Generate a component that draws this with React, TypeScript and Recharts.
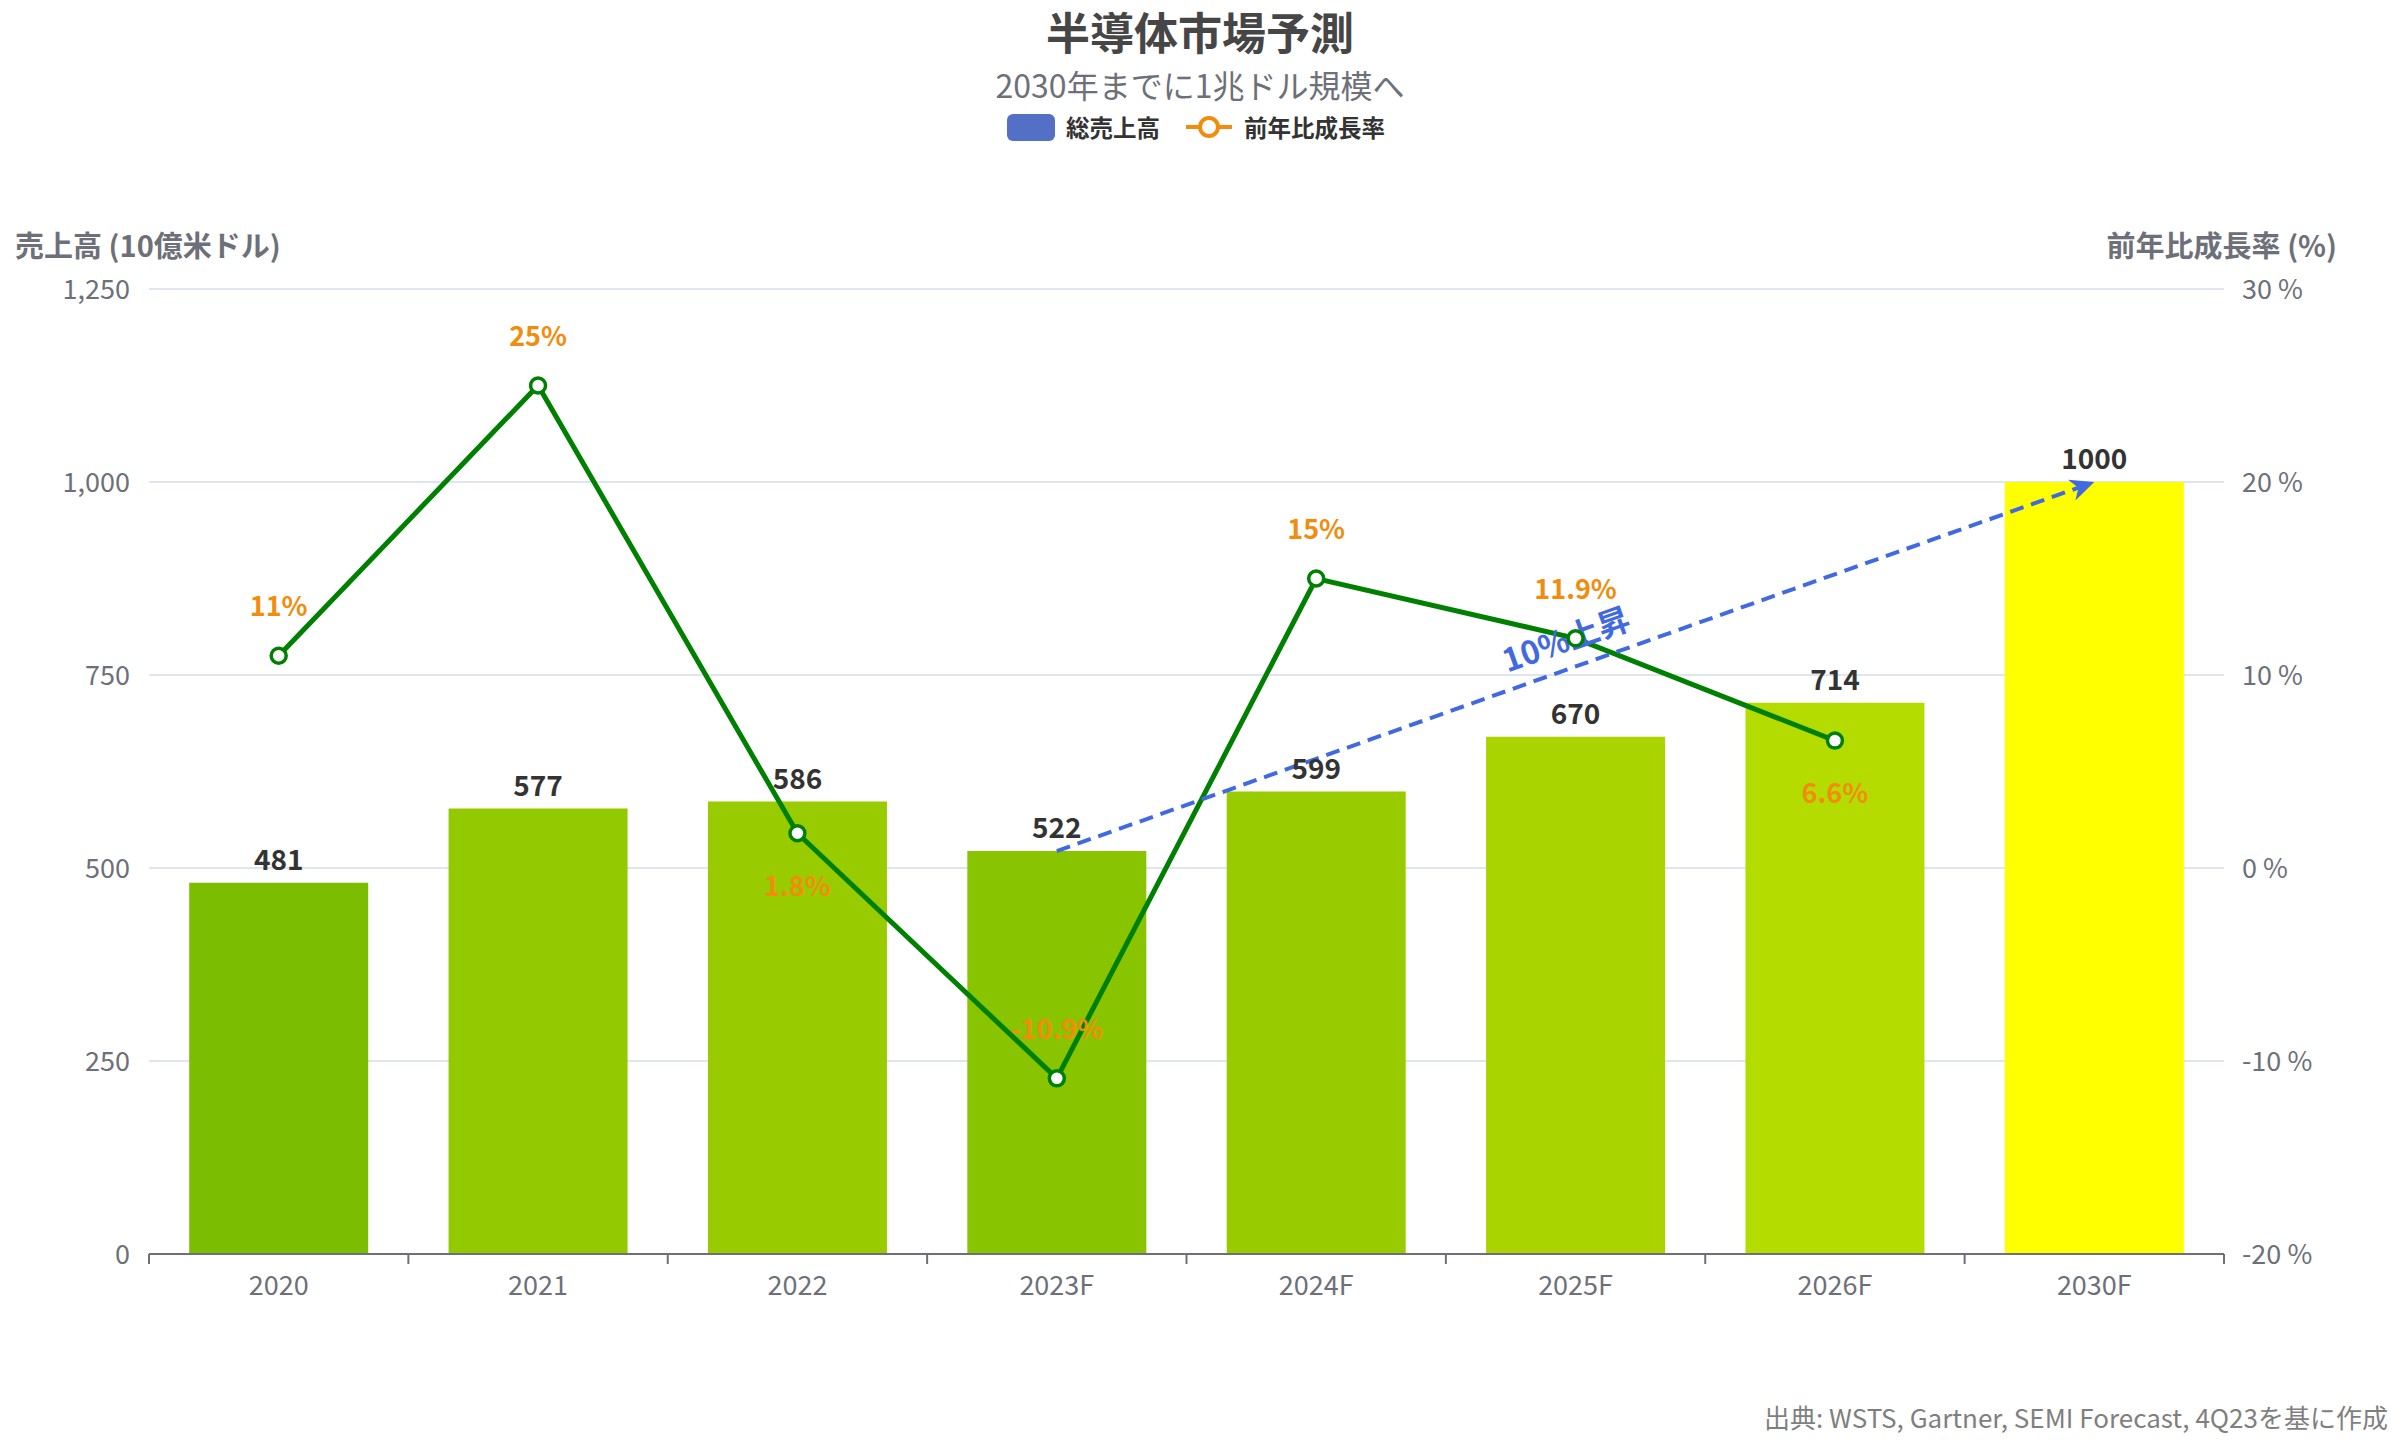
import React from "react";
import {
  ComposedChart,
  Bar,
  Line,
  XAxis,
  YAxis,
  CartesianGrid,
  Cell,
  LabelList,
  ReferenceLine,
} from "recharts";

const FONT = '"Noto Sans CJK JP", "Noto Sans", sans-serif';

// data
const categories = ["2020", "2021", "2022", "2023F", "2024F", "2025F", "2026F", "2030F"];
const revenue = [481, 577, 586, 522, 599, 670, 714, 1000];
const growth: (number | null)[] = [11, 25, 1.8, -10.9, 15, 11.9, 6.6, null];
const leftTicks = [0, 250, 500, 750, 1000, 1250];
const rightTicks = [-20, -10, 0, 10, 20, 30];
const trendFrom = { x: "2023F", y: 522 };
const trendTo = { x: "2030F", y: 1000 };

// styling
const BAR_COLORS = ["#7bbd00", "#93c900", "#99cc00", "#88c400", "#99cc00", "#a9d400", "#b5dc00", "#ffff00"];
const GROWTH_LABEL_SIDE = ["up", "up", "down", "up", "up", "up", "down", "up"];
const AXIS_GRAY = "#6e7079";
const ORANGE = "#f28c0c";
const LINE_GREEN = "#008000";
const BLUE = "#4169e1";

const PLOT_LEFT = 149;
const PLOT_RIGHT = 2224;
const BAND = (PLOT_RIGHT - PLOT_LEFT) / categories.length;

const data = categories.map((c, i) => ({
  name: c,
  revenue: revenue[i],
  growth: growth[i],
}));

const XTick = (props: any) => {
  const { x, y, payload, index } = props;
  const half = BAND / 2;
  return (
    <g>
      <line x1={x - half} x2={x - half} y1={y} y2={y + 10} stroke={AXIS_GRAY} strokeWidth={2} />
      {index === categories.length - 1 && (
        <line x1={x + half} x2={x + half} y1={y} y2={y + 10} stroke={AXIS_GRAY} strokeWidth={2} />
      )}
      <text
        x={x}
        y={y + 29}
        textAnchor="middle"
        dominantBaseline="central"
        fill={AXIS_GRAY}
        fontSize={27}
        fontFamily={FONT}
      >
        {payload.value}
      </text>
    </g>
  );
};

const GrowthLabel = (props: any) => {
  const { x, y, value, index } = props;
  if (value === null || value === undefined) return null;
  const dy = GROWTH_LABEL_SIDE[index] === "down" ? 51 : -51;
  return (
    <text
      x={x}
      y={y + dy}
      textAnchor="middle"
      dominantBaseline="central"
      fill={ORANGE}
      fontSize={27}
      fontWeight={700}
      fontFamily={FONT}
    >
      {`${value}%`}
    </text>
  );
};

const TrendArrow = (props: any) => {
  const { x1, y1, x2, y2 } = props;
  if ([x1, y1, x2, y2].some((v) => typeof v !== "number" || isNaN(v))) return null;
  const a = Math.atan2(y2 - y1, x2 - x1);
  const c = Math.cos(a);
  const s = Math.sin(a);
  const len = 24;
  const w = 11;
  const bx = x2 - len * c;
  const by = y2 - len * s;
  const nx = x2 - len * 0.7 * c;
  const ny = y2 - len * 0.7 * s;
  const head = [
    `${x2},${y2}`,
    `${bx - w * s},${by + w * c}`,
    `${nx},${ny}`,
    `${bx + w * s},${by - w * c}`,
  ].join(" ");
  const t = 0.5;
  const mx = x1 + (x2 - x1) * t + 31 * s;
  const my = y1 + (y2 - y1) * t - 31 * c;
  const deg = (a * 180) / Math.PI;
  return (
    <g>
      <line
        x1={x1}
        y1={y1}
        x2={nx}
        y2={ny}
        stroke={BLUE}
        strokeWidth={4}
        strokeDasharray="14 8"
      />
      <polygon points={head} fill={BLUE} />
      <text
        x={mx}
        y={my}
        textAnchor="middle"
        dominantBaseline="central"
        fill={BLUE}
        fontSize={32}
        fontWeight={700}
        fontFamily={FONT}
        transform={`rotate(${deg} ${mx} ${my})`}
      >
        10%上昇
      </text>
    </g>
  );
};

export default function App() {
  return (
    <div
      style={{
        position: "absolute",
        left: 0,
        top: 0,
        width: 2400,
        height: 1440,
        background: "#fff",
        fontFamily: FONT,
      }}
    >
      <div
        style={{
          position: "absolute",
          left: 0,
          width: 2400,
          top: 6,
          textAlign: "center",
          fontSize: 44,
          fontWeight: 700,
          color: "#464646",
          lineHeight: "50px",
        }}
      >
        半導体市場予測
      </div>
      <div
        style={{
          position: "absolute",
          left: 0,
          width: 2400,
          top: 67,
          textAlign: "center",
          fontSize: 32,
          color: AXIS_GRAY,
          lineHeight: "34px",
        }}
      >
        2030年までに1兆ドル規模へ
      </div>
      <div
        style={{
          position: "absolute",
          left: 1007,
          top: 112,
          height: 30,
          display: "flex",
          alignItems: "center",
          fontSize: 23.5,
          fontWeight: 700,
          color: "#333",
        }}
      >
        <span
          style={{
            display: "inline-block",
            width: 48,
            height: 27,
            borderRadius: 6,
            background: "#5470c6",
            marginRight: 11,
          }}
        />
        <span style={{ marginRight: 26 }}>総売上高</span>
        <svg width={46} height={26} style={{ marginRight: 12 }}>
          <line x1={0} x2={46} y1={13} y2={13} stroke={ORANGE} strokeWidth={4} />
          <circle cx={23} cy={13} r={9} fill="#fff" stroke={ORANGE} strokeWidth={4} />
        </svg>
        <span>前年比成長率</span>
      </div>
      <div
        style={{
          position: "absolute",
          left: 15,
          top: 224,
          fontSize: 29,
          fontWeight: 700,
          color: AXIS_GRAY,
          lineHeight: "40px",
        }}
      >
        売上高 (10億米ドル)
      </div>
      <div
        style={{
          position: "absolute",
          right: 2400 - 2337,
          top: 224,
          fontSize: 29,
          fontWeight: 700,
          color: AXIS_GRAY,
          lineHeight: "40px",
          whiteSpace: "nowrap",
        }}
      >
        前年比成長率 (%)
      </div>
      <div
        style={{
          position: "absolute",
          right: 2400 - 2388,
          top: 1400,
          fontSize: 26,
          color: "#7f7f7f",
          lineHeight: "34px",
          whiteSpace: "nowrap",
        }}
      >
        出典: WSTS, Gartner, SEMI Forecast, 4Q23を基に作成
      </div>

      <div style={{ position: "absolute", left: 0, top: 0 }}>
        <ComposedChart
          width={2400}
          height={1440}
          data={data}
          margin={{ top: 289, right: 76, bottom: 126, left: 69 }}
          barCategoryGap="15.5%"
        >
          <CartesianGrid horizontal vertical={false} stroke="#e0e6f1" strokeWidth={2} yAxisId="left" />
          <XAxis
            dataKey="name"
            height={60}
            axisLine={{ stroke: AXIS_GRAY, strokeWidth: 2 }}
            tickLine={false}
            tickSize={0}
            tickMargin={0}
            tick={<XTick />}
            interval={0}
          />
          <YAxis
            yAxisId="left"
            width={80}
            domain={[0, 1250]}
            ticks={leftTicks}
            axisLine={false}
            tickLine={false}
            tickSize={0}
            tickMargin={19}
            tick={{ fill: AXIS_GRAY, fontSize: 27, fontFamily: FONT }}
            tickFormatter={(v: number) => v.toLocaleString("en-US")}
          />
          <YAxis
            yAxisId="right"
            orientation="right"
            width={100}
            domain={[-20, 30]}
            ticks={rightTicks}
            axisLine={false}
            tickLine={false}
            tickSize={0}
            tickMargin={18}
            tick={{ fill: AXIS_GRAY, fontSize: 27, fontFamily: FONT }}
            tickFormatter={(v: number) => `${v} %`}
          />
          <Bar yAxisId="left" dataKey="revenue" isAnimationActive={false}>
            {data.map((d, i) => (
              <Cell key={d.name} fill={BAR_COLORS[i]} />
            ))}
            <LabelList
              dataKey="revenue"
              position="top"
              offset={13}
              fill="#333"
              fontSize={28}
              fontWeight={700}
              fontFamily={FONT}
            />
          </Bar>
          <Line
            yAxisId="right"
            dataKey="growth"
            stroke={LINE_GREEN}
            strokeWidth={5}
            dot={{ r: 7.5, fill: "#fff", stroke: LINE_GREEN, strokeWidth: 3.5 }}
            activeDot={false}
            isAnimationActive={false}
          >
            <LabelList dataKey="growth" content={<GrowthLabel />} />
          </Line>
          <ReferenceLine
            yAxisId="left"
            segment={[trendFrom, trendTo]}
            shape={(p: any) => <TrendArrow {...p} />}
            ifOverflow="visible"
          />
        </ComposedChart>
      </div>
    </div>
  );
}
